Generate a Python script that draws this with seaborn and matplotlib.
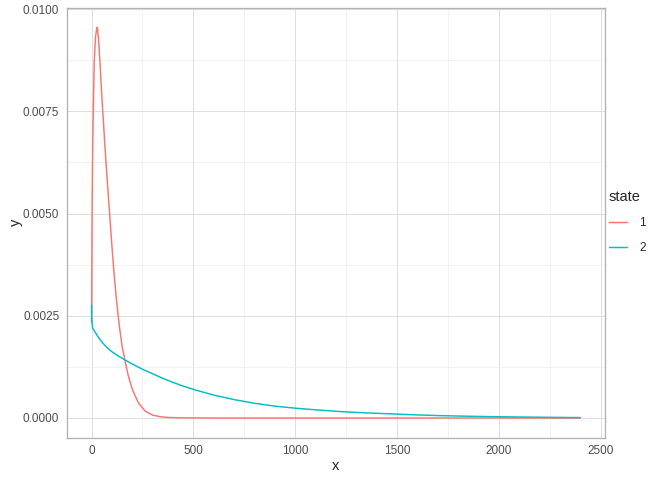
import numpy as np
import pandas as pd
import matplotlib
matplotlib.use("Agg")
import matplotlib.pyplot as plt
import seaborn as sns

# ==========================
# Données
# ==========================
x_state1 = [0, 1, 2, 3, 5, 8, 13, 19, 26, 30, 35, 40, 50, 60, 70, 80, 90,
            100, 110, 120, 130, 140, 150, 165, 180, 200, 230, 265, 300, 340,
            380, 450, 600, 1000, 1500, 2000, 2400]
y_state1 = [0.00235, 0.0032, 0.0045, 0.0053, 0.0064, 0.0074, 0.0087, 0.0093,
            0.00955, 0.0095, 0.0092, 0.0088, 0.0079, 0.0071, 0.0063, 0.0056,
            0.0049, 0.0042, 0.00356, 0.0030, 0.00252, 0.00211, 0.00176,
            0.00138, 0.00104, 0.0007, 0.00037, 0.00016, 0.00007, 0.00003,
            0.000012, 0.000004, 0.0, 0.0, 0.0, 0.0, 0.0]

x_state2 = [0, 1, 5, 21, 44, 70, 100, 130, 164, 200, 247, 300, 350, 400, 444,
            500, 600, 700, 800, 900, 1000, 1100, 1226, 1350, 1475, 1600, 1719,
            1850, 1963, 2100, 2250, 2400]
y_state2 = [0.00276, 0.0024, 0.0022, 0.00207, 0.0019, 0.00175, 0.00162,
            0.00152, 0.00142, 0.00132, 0.0012, 0.00108, 0.00097, 0.00087,
            0.00079, 0.0007, 0.00056, 0.00045, 0.00036, 0.00029, 0.00024,
            0.0002, 0.000155, 0.000125, 0.0001, 0.000075, 0.000057, 0.000043,
            0.000033, 0.000024, 0.000016, 0.00001]

states = ["1", "2"]
palette = {"1": "#F8766D", "2": "#00BFC4"}

data = pd.concat([
    pd.DataFrame({"x": x_state1, "y": y_state1, "state": states[0]}),
    pd.DataFrame({"x": x_state2, "y": y_state2, "state": states[1]}),
], ignore_index=True)

# ==========================
# Style (proche de theme_light)
# ==========================
sns.set_style("white")
plt.rcParams["font.family"] = ["Liberation Sans", "DejaVu Sans"]

fig = plt.figure(figsize=(7, 5), dpi=96)
ax = fig.add_axes([0.0999, 0.0885, 0.80, 0.895])

sns.lineplot(data=data, x="x", y="y", hue="state", palette=palette,
             estimator=None, sort=False, linewidth=1.1, ax=ax)

xmin, xmax = 0, 2400
ymin, ymax = 0.0, 0.00955
ax.set_xlim(xmin - 0.05 * (xmax - xmin), xmax + 0.05 * (xmax - xmin))
ax.set_ylim(ymin - 0.05 * (ymax - ymin), ymax + 0.05 * (ymax - ymin))

x_ticks = [0, 500, 1000, 1500, 2000, 2500]
y_ticks = [0.0, 0.0025, 0.005, 0.0075, 0.01]
ax.set_xticks(x_ticks)
ax.set_xticklabels([str(t) for t in x_ticks])
ax.set_yticks(y_ticks)
ax.set_yticklabels([f"{t:.4f}" for t in y_ticks])
ax.set_xticks([250, 750, 1250, 1750, 2250], minor=True)
ax.set_yticks([0.00125, 0.00375, 0.00625, 0.00875], minor=True)

ax.grid(which="major", color="#DEDEDE", linewidth=0.71)
ax.grid(which="minor", color="#EBEBEB", linewidth=0.45)
ax.set_axisbelow(True)

for s in ax.spines.values():
    s.set_color("#B3B3B3")
    s.set_linewidth(1.0)

ax.tick_params(which="major", length=3.7, width=0.71, color="#B3B3B3",
               labelsize=8.8, labelcolor="#4D4D4D", pad=2.2)
ax.tick_params(which="minor", length=0)

ax.set_xlabel("x", fontsize=11, labelpad=1.5)
ax.set_ylabel("y", fontsize=11, labelpad=0)

ax.legend_.remove()
handles = [plt.Line2D([], [], color=palette[s], linewidth=1.1) for s in states]
leg = fig.legend(handles, states, title="state", loc="center left",
                 bbox_to_anchor=(0.89, 0.537), frameon=False,
                 fontsize=8.8, title_fontsize=11, handlelength=1.6,
                 handletextpad=1.0, labelspacing=1.1)
leg._legend_box.align = "left"

fig.savefig("out.png", dpi=96)
